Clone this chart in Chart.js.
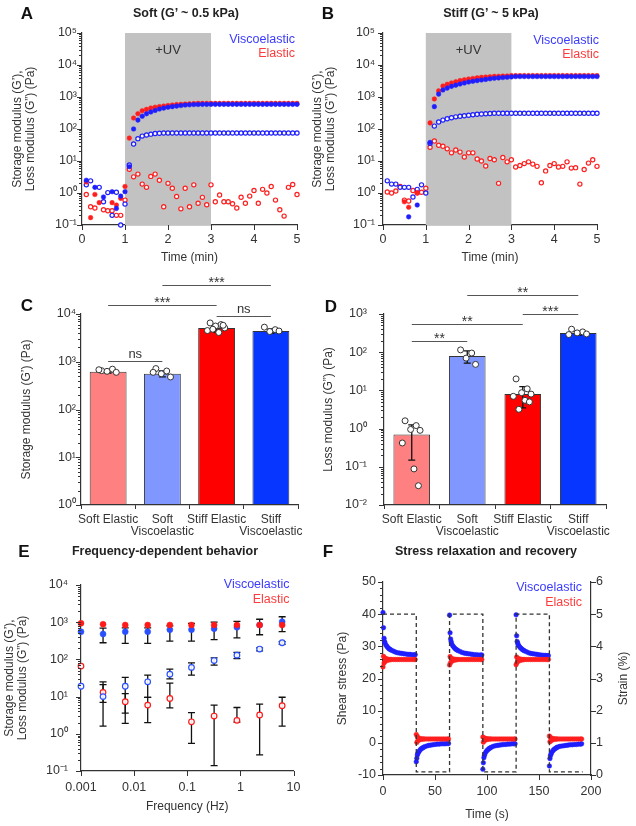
<!DOCTYPE html>
<html><head><meta charset="utf-8">
<script src="https://cdn.jsdelivr.net/npm/chart.js@4.4.1/dist/chart.umd.min.js"></script>
<style>
html,body{margin:0;padding:0;background:#fff;}
#wrap{position:relative;width:636px;height:826px;overflow:hidden;font-family:"Liberation Sans",Arial,Helvetica,sans-serif;color:#222;}
canvas{position:absolute;}
.t{position:absolute;white-space:nowrap;transform:translate(-50%,-50%);font-weight:bold;}
.L{font-size:17px;color:#111;}
.H{font-size:12.5px;color:#222;}
</style></head><body><div id="wrap">
<canvas id="cA" width="310" height="270" style="left:0;top:0"></canvas>
<canvas id="cB" width="318" height="270" style="left:300px;top:0"></canvas>
<canvas id="cC" width="310" height="285" style="left:0;top:262px"></canvas>
<canvas id="cD" width="318" height="285" style="left:300px;top:262px"></canvas>
<canvas id="cE" width="310" height="286" style="left:0;top:540px"></canvas>
<canvas id="cF" width="336" height="286" style="left:300px;top:540px"></canvas>
<div class="t L" style="left:27px;top:14px">A</div>
<div class="t H" style="left:186px;top:13px">Soft (G’ ~ 0.5 kPa)</div>
<div class="t L" style="left:328px;top:14px">B</div>
<div class="t H" style="left:491px;top:13px">Stiff (G’ ~ 5 kPa)</div>
<div class="t L" style="left:27px;top:306px">C</div>
<div class="t L" style="left:331px;top:307px">D</div>
<div class="t L" style="left:24px;top:552px">E</div>
<div class="t H" style="left:165px;top:551px">Frequency-dependent behavior</div>
<div class="t L" style="left:328px;top:552px">F</div>
<div class="t H" style="left:486px;top:551px">Stress relaxation and recovery</div>
</div>
<script>
// ---------------- DATA ----------------
const seriesNames = ['Viscoelastic', 'Elastic'];

// Panels A & B: time (min)
const timeMin = [0.1,0.2,0.3,0.4,0.5,0.6,0.7,0.8,0.9,1.0,
 1.1,1.2,1.3,1.4,1.5,1.6,1.7,1.8,1.9,2.0,
 2.1,2.2,2.3,2.4,2.5,2.6,2.7,2.8,2.9,3.0,
 3.1,3.2,3.3,3.4,3.5,3.6,3.7,3.8,3.9,4.0,
 4.1,4.2,4.3,4.4,4.5,4.6,4.7,4.8,4.9,5.0];
const timeTicks = [0,1,2,3,4,5];
const uvStart = 1, uvEnd = 3;
const uvLabel = '+UV';

// A: soft
const softViscoG1 = [2.5,null,1.5,null,0.75,null,1.1,0.33,0.8,1.1,
 6.6,100,190,250,300,340,380,420,450,480,
 500,520,540,560,570,580,585,590,590,590,
 590,590,590,590,590,590,590,590,590,590,
 590,590,590,590,590,590,590,590,590,590];
const softElasticG1 = [2.2,0.17,0.9,0.5,null,null,0.5,0.42,0.68,1.6,
 52,220,300,370,410,450,480,500,520,540,
 560,580,590,600,610,620,630,630,630,630,
 630,630,630,630,630,630,630,630,630,630,
 630,630,630,630,630,630,630,630,630,630];
const softViscoG2 = [1.8,2.4,null,1.5,0.53,1.03,0.2,1.05,0.1,0.45,
 7.5,34,50,60,65,69,72,74,75,75,
 75,75,75,75,75,75,75,75,75,75,
 75,75,75,75,75,75,75,75,75,75,
 75,75,75,75,75,75,75,75,75,75];
const softElasticG2 = [0.9,0.37,0.34,null,0.3,0.28,0.28,0.2,0.2,0.6,
 5.5,3.2,3.9,1.9,1.5,3.3,3.9,2.5,0.37,2.0,
 1.4,0.78,0.32,1.4,0.37,1.8,0.48,0.73,0.43,1.8,
 0.53,0.87,0.53,0.53,0.46,0.34,0.74,0.48,0.8,1.2,
 0.48,1.3,1.0,1.6,0.6,0.3,0.19,1.5,1.85,0.9];

// B: stiff
const stiffViscoG1 = [null,null,null,null,null,0.18,null,0.42,null,null,
 38,500,1230,1650,1900,2150,2350,2550,2750,2950,
 3100,3250,3400,3550,3700,3850,3950,4050,4150,4250,
 4350,4350,4350,4350,4350,4350,4350,4350,4350,4350,
 4350,4350,4350,4350,4350,4350,4350,4350,4350,4350];
const stiffElasticG1 = [null,null,null,null,0.53,0.36,null,1.03,null,null,
 155,870,1550,2200,2500,2750,3000,3250,3450,3650,
 3800,3950,4100,4200,4300,4400,4450,4500,4550,4650,
 4650,4650,4650,4650,4650,4650,4650,4650,4650,4650,
 4650,4650,4650,4650,4650,4650,4650,4650,4650,4650];
const stiffViscoG2 = [2.4,1.9,1.9,1.5,1.5,1.5,0.75,1.3,1.8,1.0,
 36,123,165,190,210,225,240,250,260,270,
 280,290,295,300,305,310,310,310,310,310,
 310,310,310,310,310,310,310,310,310,310,
 310,310,310,310,310,310,310,310,310,310];
const stiffElasticG2 = [1.07,1.0,1.15,1.6,0.6,0.56,1.2,1.0,1.05,1.4,
 27,42,31,29,24,18,22,19,13.3,18,
 18,11.5,10,7,12,11,2.0,12.8,9.4,11,
 6.5,7.2,8.3,9.4,8,6.8,2.1,4.9,7.2,8.3,
 6.5,6.8,9.4,6,6.2,1.9,5.4,8.6,11,6.8];

const modMajors = [0.1,1,10,100,1000,10000,100000];
const modLabels = ['10⁻¹','10⁰','10¹','10²','10³','10⁴','10⁵'];

// C & D: bars
const barCats = ['Soft Elastic', ['Soft','Viscoelastic'], 'Stiff Elastic', ['Stiff','Viscoelastic']];
const barColors = ['#ff8080','#8097ff','#ff0000','#0636ff'];
const cMeans = [620, 560, 5100, 4400];
const cSd = [40, 80, 900, 450];
const cPoints = [[650,700,630,600,680],[720,640,560,480,600],[6500,6000,5600,5100,4500,4100,5800,4800],[5300,4700,4300,4400]];
const cSig = [[0,2,15500,'***'],[1,3,40500,'***'],[0,1,1040,'ns'],[2,3,9100,'ns']];
const cMajors = [1,10,100,1000,10000];
const cLabels = ['10⁰','10¹','10²','10³','10⁴'];

const dMeans = [0.7, 80, 8, 316];
const dSd = [0.55, 28, 4.5, 35];
const dPoints = [[1.6,1.2,0.95,0.9,0.42,0.088,0.032],[115,95,70,48],[20,11,8.7,8,7,5.5,5,3.2],[400,340,320,300,290]];
const dSig = [[0,1,195,'**'],[0,2,550,'**'],[2,3,1000,'***'],[1,3,3150,'**']];
const dMajors = [0.01,0.1,1,10,100,1000];
const dLabels = ['10⁻²','10⁻¹','10⁰','10¹','10²','10³'];

// E: frequency sweep
const eFreq = [0.001,0.0026,0.0068,0.018,0.047,0.12,0.32,0.86,2.3,6.1];
const eViscoG1 = [555,480,555,555,630,630,670,730,840,1030];
const eElasticG1 = [935,880,840,840,840,840,840,840,840,840];
const eViscoG2 = [19,10,19,25,40,61,93,130,190,280];
const eElasticG2 = [66,13,7.3,5.9,8.9,2.1,3.0,2.3,3.2,5.7];
const eViscoG1Lo = [null,280,270,270,310,310,340,380,460,555];
const eViscoG1Hi = [null,690,700,700,800,930,1000,1050,1200,1400];
const eViscoG2Lo = [null,1.6,3.6,9.5,30,38,70,105,170,255];
const eViscoG2Hi = [null,25,33,38,55,81,110,155,205,300];
const eElasticG2Lo = [null,7,1.9,2.0,5,0.55,0.14,2.05,0.27,1.6];
const eElasticG2Hi = [null,21,12,9.5,23,3.7,5.9,5.1,6.3,9.6];
const eXMajors = [0.001,0.01,0.1,1,10];
const eXLabels = ['0.001','0.01','0.1','1','10'];
const eYMajors = [0.1,1,10,100,1000,10000];
const eYLabels = ['10⁻¹','10⁰','10¹','10²','10³','10⁴'];

// F: stress relaxation
const fTime = [0,0.5,1,1.5,2,3,4,5,6,7,8,10,12,14,16,18,20,22,24,26,28,30,31,
 32,32.5,33,33.5,34,35,36,37,38,39,40,42,44,46,48,50,52,54,56,58,60,62,63,
 64,64.5,65,65.5,66,67,68,69,70,71,72,74,76,78,80,82,84,86,88,90,92,94,95,
 96,96.5,97,97.5,98,99,100,101,102,103,104,106,108,110,112,114,116,118,120,122,124,126,127,
 128,128.5,129,129.5,130,131,132,133,134,135,136,138,140,142,144,146,148,150,152,154,156,158,159,
 160,160.5,161,161.5,162,163,164,165,166,167,168,170,172,174,176,178,180,182,184,186,188,190,191];
const fVisco = [40.5,35.8,32.5,31.5,31,30.3,29.9,29.5,29.2,29,28.8,28.5,28.2,28,27.9,27.8,27.7,27.6,27.5,27.5,27.4,27.4,27.4,
 -5.9,-4.8,-3.8,-3.3,-3,-2.5,-2.1,-1.8,-1.6,-1.4,-1.2,-1,-0.8,-0.7,-0.6,-0.5,-0.4,-0.4,-0.3,-0.3,-0.3,-0.2,-0.2,
 39.7,34.2,32.3,31.5,30.8,30.2,29.8,29.4,29.1,28.9,28.7,28.4,28.1,27.9,27.8,27.7,27.6,27.5,27.4,27.4,27.3,27.3,27.3,
 -8.2,-6.2,-4.6,-3.9,-3.4,-2.8,-2.4,-2.1,-1.8,-1.6,-1.4,-1.1,-0.9,-0.8,-0.7,-0.6,-0.5,-0.5,-0.4,-0.4,-0.3,-0.3,-0.3,
 39.8,33.3,31.5,31,30.5,30,29.6,29.3,29,28.8,28.6,28.3,28,27.8,27.7,27.6,27.5,27.4,27.3,27.2,27.2,27.1,27.1,
 -7.2,-4.9,-4,-3.5,-3.1,-2.6,-2.2,-1.9,-1.7,-1.5,-1.3,-1.1,-1,-0.9,-0.8,-0.7,-0.6,-0.6,-0.5,-0.5,-0.4,-0.4,-0.3];
const fElastic = [23.6,26.9,24.8,26.4,25.3,26.2,25.6,26,25.8,25.9,25.9,25.9,25.9,25.9,25.9,25.9,25.9,25.9,25.9,25.9,25.9,25.9,25.9,
 2.6,0.1,2,0.7,1.5,0.9,1.3,1.1,1.2,1.2,1.2,1.2,1.2,1.2,1.2,1.2,1.2,1.2,1.2,1.2,1.2,1.2,1.2,
 24.2,26.8,24.9,26.3,25.4,26.1,25.6,26,25.8,25.9,25.9,25.9,25.9,25.9,25.9,25.9,25.9,25.9,25.9,25.9,25.9,25.9,25.9,
 1.8,0.2,1.6,0.7,1.4,0.9,1.3,1.1,1.2,1.2,1.2,1.2,1.2,1.2,1.2,1.2,1.2,1.2,1.2,1.2,1.2,1.2,1.2,
 24.3,26.7,25,26.2,25.4,26.1,25.6,26,25.8,25.9,25.9,25.9,25.9,25.9,25.9,25.9,25.9,25.9,25.9,25.9,25.9,25.9,25.9,
 2.1,0.3,1.7,0.7,1.4,0.9,1.3,1.1,1.2,1.2,1.2,1.2,1.2,1.2,1.2,1.2,1.2,1.2,1.2,1.2,1.2,1.2,1.2];
const fStrainT = [0,32,32,64,64,96,96,128,128,160,160,192];
const fStrain = [5,5,0.1,0.1,5,5,0.1,0.1,5,5,0.1,0.1];
const fTimeTicks = [0,50,100,150,200];
const fStressTicks = [-10,0,10,20,30,40,50];
const fStrainTicks = [0,1,2,3,4,5,6];

// ---------------- STYLE / HELPERS ----------------
const FONT = '"Liberation Sans", Arial, Helvetica, sans-serif';
Chart.defaults.font.family = FONT;
Chart.defaults.color = '#333';
Chart.defaults.animation = false;
const BLUE = '#1e1eff', RED = '#ff1e1e', BLUE_TXT = '#3b3bff', RED_TXT = '#ff3b3b';
const AX = '#333';
const tickFont = {size:12.5};
const titleFont = {size:12, lineHeight:1.03};
const border = {display:true, color:AX, width:1.2};

function logTicks(min,max){
  const out=[]; const e0=Math.round(Math.log10(min)), e1=Math.round(Math.log10(max));
  for(let e=e0;e<e1;e++){ for(let k=1;k<10;k++){ out.push({value:Number((k*Math.pow(10,e)).toPrecision(6))}); } }
  out.push({value:max}); return out;
}
function labelFor(majors,labels,isLog){
  return function(v){
    for(let i=0;i<majors.length;i++){
      if(isLog ? Math.abs(Math.log10(v)-Math.log10(majors[i]))<1e-6 : Math.abs(v-majors[i])<1e-6) return labels[i];
    }
    return '';
  };
}
function pts(xs,ys){ const o=[]; for(let i=0;i<xs.length;i++){ if(ys[i]!=null) o.push({x:xs[i],y:ys[i]}); } return o; }
function filled(data,color,r,order){ return {data,order,showLine:false,clip:false,pointRadius:r,pointHoverRadius:r,pointBackgroundColor:color,pointBorderColor:color,pointBorderWidth:0.5}; }
function open(data,color,r,order){ return {data,order,showLine:false,clip:false,pointRadius:r,pointHoverRadius:r,pointBackgroundColor:'rgba(255,255,255,0.9)',pointBorderColor:color,pointBorderWidth:1.2}; }

function yLog(o){
  return {type:'logarithmic', position:'left', min:o.min, max:o.max,
    afterBuildTicks: s => { s.ticks = logTicks(o.min,o.max); },
    afterFit: s => { s.width = o.width; },
    ticks:{autoSkip:false, padding:o.pad, font:tickFont, color:AX, callback: labelFor(o.majors,o.labels,true)},
    grid:{display:false, drawTicks:false}, border,
    title:{display:true, text:o.title, font:titleFont, color:'#333', padding:{top:o.tpad,bottom:0}}
  };
}
function xLin(o){
  return {type:'linear', position:'bottom', min:o.min, max:o.max,
    afterBuildTicks: s => { s.ticks = o.ticks.map(v=>({value:v})); },
    afterFit: s => { s.height = o.height; },
    ticks:{autoSkip:false, maxRotation:0, padding:o.pad, font:tickFont, color:AX, callback: v => String(v)},
    grid:{display:false, drawTicks:false}, border,
    title:{display:true, text:o.title, font:titleFont, color:'#333', padding:{top:0,bottom:o.tpad}}
  };
}

// tick marks plugin (major longer than minor)
function tickMarks(ids){
  return {id:'tickMarks', afterDraw(chart){
    const ctx=chart.ctx; ctx.save(); ctx.strokeStyle=AX; ctx.lineWidth=1;
    ids.forEach(id=>{
      const s=chart.scales[id]; if(!s) return;
      s.ticks.forEach(t=>{
        const major = t.label !== '' && t.label != null;
        const len = major ? 5 : 3;
        const p = Math.round(s.getPixelForValue(t.value))+0.5;
        ctx.beginPath();
        if(s.position==='left'){ ctx.moveTo(s.right,p); ctx.lineTo(s.right-len,p); }
        else if(s.position==='right'){ ctx.moveTo(s.left,p); ctx.lineTo(s.left+len,p); }
        else { ctx.moveTo(p,s.top); ctx.lineTo(p,s.top+len); }
        ctx.stroke();
      });
    });
    ctx.restore();
  }};
}
function textLegend(dx,dy1,dy2){
  return {id:'textLegend', afterDraw(chart){
    const {ctx,chartArea:a}=chart; ctx.save();
    ctx.font='12.5px '+FONT; ctx.textAlign='right'; ctx.textBaseline='middle';
    ctx.fillStyle=BLUE_TXT; ctx.fillText(seriesNames[0], a.right+dx, a.top+dy1);
    ctx.fillStyle=RED_TXT; ctx.fillText(seriesNames[1], a.right+dx, a.top+dy2);
    ctx.restore();
  }};
}
const uvBand = {id:'uvBand', beforeDatasetsDraw(chart){
  const {ctx,chartArea:a}=chart; const x=chart.scales.x;
  const x1=x.getPixelForValue(uvStart), x2=x.getPixelForValue(uvEnd);
  ctx.save(); ctx.fillStyle='#c2c2c2'; ctx.fillRect(x1,a.top,x2-x1,a.bottom-a.top);
  ctx.fillStyle='#333'; ctx.font='13px '+FONT; ctx.textAlign='center'; ctx.textBaseline='middle';
  ctx.fillText(uvLabel,(x1+x2)/2,a.top+17); ctx.restore();
}};

function timeChart(id, g1v, g1e, g2v, g2e, yW, yPad, padR, leg){
  return new Chart(document.getElementById(id), {
    type:'scatter',
    data:{datasets:[
      filled(pts(timeMin,g1v),BLUE,2.3,1),
      filled(pts(timeMin,g1e),RED,2.3,2),
      open(pts(timeMin,g2v),BLUE,2.1,3),
      open(pts(timeMin,g2e),RED,2.1,4)
    ]},
    options:{responsive:false, events:[], animation:false,
      layout:{padding:{left:0,top:33,right:padR,bottom:0}, autoPadding:false},
      plugins:{legend:{display:false}, tooltip:{enabled:false}},
      scales:{
        x: xLin({min:0,max:5,ticks:timeTicks,height:45,pad:7.5,title:'Time (min)',tpad:5.8}),
        y: yLog({min:0.1,max:100000,majors:modMajors,labels:modLabels,width:yW,pad:yPad,
          title:['Storage modulus (G’),','Loss modulus (G”) (Pa)'],tpad:11.8})
      }
    },
    plugins:[uvBand, tickMarks(['x','y']), leg]
  });
}
timeChart('cA', softViscoG1, softElasticG1, softViscoG2, softElasticG2, 82, 5, 13, textLegend(-2,7,21));
timeChart('cB', stiffViscoG1, stiffElasticG1, stiffViscoG2, stiffElasticG2, 83, 8, 21, textLegend(2,8,22));

// bar charts: error bars + individual replicate dots drawn through the chart's scales
const jitter = [-0.12,0.08,-0.02,0.15,-0.17,0.04,0.12,-0.07];
function barExtras(means,sds,groups){
  return {id:'barExtras', afterDatasetsDraw(chart){
    const {ctx}=chart; const x=chart.scales.x, y=chart.scales.y; const meta=chart.getDatasetMeta(0);
    ctx.save(); ctx.strokeStyle='#111'; ctx.lineWidth=1.3;
    means.forEach((m,i)=>{
      const xc=meta.data[i].x; const lo=Math.max(m-sds[i], y.min); const hi=m+sds[i];
      const y1=y.getPixelForValue(lo), y2=y.getPixelForValue(hi);
      ctx.beginPath(); ctx.moveTo(xc,y1); ctx.lineTo(xc,y2);
      ctx.moveTo(xc-3.5,y1); ctx.lineTo(xc+3.5,y1); ctx.moveTo(xc-3.5,y2); ctx.lineTo(xc+3.5,y2); ctx.stroke();
    });
    ctx.lineWidth=1; ctx.strokeStyle='#333'; ctx.fillStyle='#fff';
    groups.forEach((g,i)=>g.forEach((v,j)=>{
      const px=x.getPixelForValue(i+jitter[j%jitter.length]); const py=y.getPixelForValue(v);
      ctx.beginPath(); ctx.arc(px,py,3,0,Math.PI*2); ctx.fill(); ctx.stroke();
    }));
    ctx.restore();
  }};
}
function sigPlugin(items){
  return {id:'sig', afterDraw(chart){
    const {ctx}=chart; const x=chart.scales.x, y=chart.scales.y;
    ctx.save(); ctx.strokeStyle='#555'; ctx.lineWidth=1.2; ctx.fillStyle='#333'; ctx.textAlign='center'; ctx.textBaseline='alphabetic';
    items.forEach(([i,j,v,lab])=>{
      const x1=x.getPixelForValue(i), x2=x.getPixelForValue(j);
      const yy=Math.round(y.getPixelForValue(v))+0.5;
      ctx.beginPath(); ctx.moveTo(x1,yy); ctx.lineTo(x2,yy); ctx.stroke();
      if(lab==='ns'){ ctx.font='13px '+FONT; ctx.fillText(lab,(x1+x2)/2,yy-4); }
      else { ctx.font='14px '+FONT; ctx.fillText(lab,(x1+x2)/2,yy+1); }
    });
    ctx.restore();
  }};
}
function barChart(id, means, sds, groups, sig, ymin, ymax, majors, labels, yW, yPad, title, tpad, barPct){
  return new Chart(document.getElementById(id), {
    type:'bar',
    data:{labels:barCats, datasets:[
      {data:means, backgroundColor:barColors, borderColor:'#333', borderWidth:1, borderSkipped:false,
       barPercentage:barPct, categoryPercentage:1}
    ]},
    options:{responsive:false, events:[], animation:false,
      layout:{padding:{left:0,top:52,right:12,bottom:0}, autoPadding:false},
      plugins:{legend:{display:false}, tooltip:{enabled:false}},
      scales:{
        x:{type:'category', offset:true, afterFit:s=>{s.height=42;},
          ticks:{autoSkip:false, maxRotation:0, padding:5, font:{size:12, lineHeight:1.0}, color:AX},
          grid:{display:true, drawOnChartArea:false, drawTicks:true, tickLength:4, color:AX, offset:true}, border},
        y: yLog({min:ymin,max:ymax,majors,labels,width:yW,pad:yPad,title,tpad})
      }
    },
    plugins:[barExtras(means,sds,groups), tickMarks(['y']), sigPlugin(sig)]
  });
}
barChart('cC', cMeans, cSd, cPoints, cSig, 1, 10000, cMajors, cLabels, 81, 5, 'Storage modulus (G’) (Pa)', 20.8, 0.68);
barChart('cD', dMeans, dSd, dPoints, dSig, 0.01, 1000, dMajors, dLabels, 84, 17, 'Loss modulus (G”) (Pa)', 22.8, 0.66);

// E
const eErr = {id:'eErr', beforeDatasetsDraw(chart){
  const {ctx}=chart; const xs=chart.scales.x, ys=chart.scales.y;
  ctx.save(); ctx.strokeStyle='#111'; ctx.lineWidth=1.3;
  [[eViscoG1Lo,eViscoG1Hi],[eViscoG2Lo,eViscoG2Hi],[eElasticG2Lo,eElasticG2Hi]].forEach(([lo,hi])=>{
    lo.forEach((l,i)=>{
      if(l==null) return;
      const x=xs.getPixelForValue(eFreq[i]); const y1=ys.getPixelForValue(l), y2=ys.getPixelForValue(hi[i]);
      ctx.beginPath(); ctx.moveTo(x,y1); ctx.lineTo(x,y2);
      ctx.moveTo(x-3.5,y1); ctx.lineTo(x+3.5,y1); ctx.moveTo(x-3.5,y2); ctx.lineTo(x+3.5,y2); ctx.stroke();
    });
  });
  ctx.restore();
}};
new Chart(document.getElementById('cE'), {
  type:'scatter',
  data:{datasets:[
    filled(pts(eFreq,eViscoG1),'#2a50ff',3,2),
    filled(pts(eFreq,eElasticG1),'#ff1a1a',3,1),
    open(pts(eFreq,eViscoG2),'#2a50ff',2.8,3),
    open(pts(eFreq,eElasticG2),'#ff1a1a',2.8,4)
  ]},
  options:{responsive:false, events:[], animation:false,
    layout:{padding:{left:0,top:45,right:14,bottom:0}, autoPadding:false},
    plugins:{legend:{display:false}, tooltip:{enabled:false}},
    scales:{
      x:{type:'logarithmic', position:'bottom', min:0.001, max:10,
        afterBuildTicks: s => { s.ticks = eXMajors.map(v=>({value:v})); },
        afterFit: s => { s.height = 55; },
        ticks:{autoSkip:false, maxRotation:0, padding:9.5, font:tickFont, color:AX, callback: labelFor(eXMajors,eXLabels,true)},
        grid:{display:false, drawTicks:false}, border,
        title:{display:true, text:'Frequency (Hz)', font:titleFont, color:'#333', padding:{top:0,bottom:12.8}}},
      y: yLog({min:0.1,max:10000,majors:eYMajors,labels:eYLabels,width:81,pad:13,
        title:['Storage modulus (G’),','Loss modulus (G”) (Pa)'],tpad:3.8})
    }
  },
  plugins:[eErr, tickMarks(['x','y']), textLegend(-4,0,15)]
});

// F
const strainTitle = {id:'strainTitle', afterDraw(chart){
  const {ctx,chartArea:a}=chart; ctx.save();
  ctx.translate(324,(a.top+a.bottom)/2); ctx.rotate(-Math.PI/2);
  ctx.font='12px '+FONT; ctx.fillStyle='#333'; ctx.textAlign='center'; ctx.textBaseline='middle';
  ctx.fillText('Strain (%)',0,0); ctx.restore();
}};
new Chart(document.getElementById('cF'), {
  type:'scatter',
  data:{datasets:[
    {data:pts(fStrainT,fStrain), yAxisID:'y2', order:0, showLine:true, borderColor:'#333', borderWidth:1.3, borderDash:[4,3], pointRadius:0, fill:false, clip:false},
    filled(pts(fTime,fVisco),'#1e1eff',2.3,2),
    filled(pts(fTime,fElastic),'#ff1e1e',2.3,1)
  ]},
  options:{responsive:false, events:[], animation:false,
    layout:{padding:{left:0,top:42,right:0,bottom:0}, autoPadding:false},
    plugins:{legend:{display:false}, tooltip:{enabled:false}},
    scales:{
      x: xLin({min:0,max:200,ticks:fTimeTicks,height:51,pad:9.5,title:'Time (s)',tpad:4.8}),
      y:{type:'linear', position:'left', min:-10, max:50,
        afterBuildTicks: s => { const t=[]; for(let v=-10; v<=50; v+=2) t.push({value:v}); s.ticks=t; },
        afterFit: s => { s.width = 83; },
        ticks:{autoSkip:false, padding:7, font:tickFont, color:AX, callback: labelFor(fStressTicks,fStressTicks.map(String),false)},
        grid:{display:false, drawTicks:false}, border,
        title:{display:true, text:'Shear stress (Pa)', font:titleFont, color:'#333', padding:{top:36.8,bottom:0}}},
      y2:{type:'linear', position:'right', min:0, max:6,
        afterBuildTicks: s => { s.ticks = fStrainTicks.map(v=>({value:v})); },
        afterFit: s => { s.width = 45; },
        ticks:{autoSkip:false, padding:5, font:tickFont, color:AX, callback: v => String(v)},
        grid:{display:false, drawTicks:false}, border}
    }
  },
  plugins:[tickMarks(['x','y','y2']), textLegend(-9,6,21), strainTitle]
});
</script>
</body></html>
